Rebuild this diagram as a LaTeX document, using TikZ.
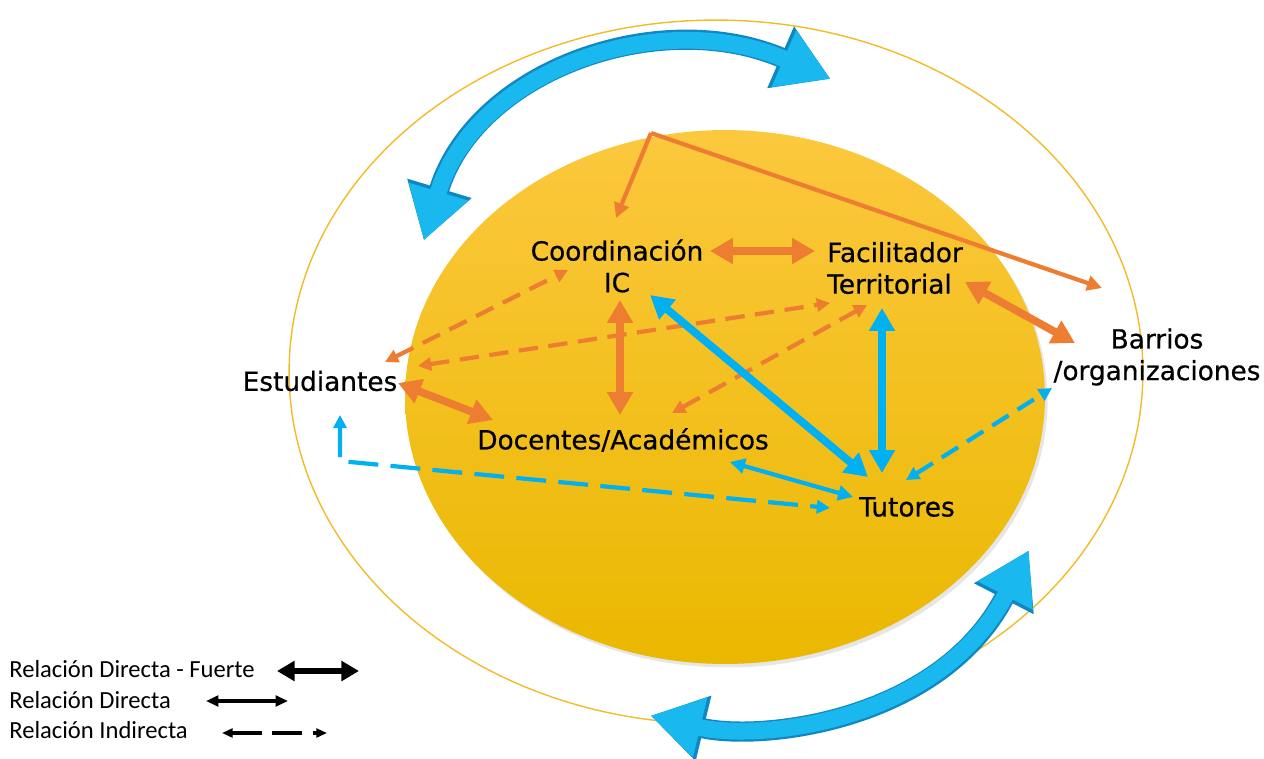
\documentclass[tikz,border=0pt]{standalone}
\usepackage{fontspec}
\setmainfont{DejaVu Sans}
\newfontfamily\actorfont{DejaVu Sans}[FakeBold=0.6]
\newfontfamily\leyendafont{Carlito}
\usetikzlibrary{arrows.meta,positioning,calc,shadows}
\definecolor{naranja}{RGB}{237,125,49}
\definecolor{celeste}{RGB}{0,176,240}
\definecolor{celesteG}{RGB}{25,185,240}
\definecolor{celesteB}{RGB}{15,135,195}
\definecolor{dorado}{RGB}{240,188,40}
\tikzset{
  actor/.style={font=\actorfont\fontsize{15}{18}\selectfont, inner sep=0pt, align=center},
  leyenda/.style={font=\leyendafont\fontsize{14}{16}\selectfont, inner sep=0pt, anchor=west},
  fuerte/.style={line width=4.4pt, >={Triangle[length=13pt,width=14pt]}, <->},
  directa/.style={line width=2.4pt, >={Triangle[length=8.5pt,width=8.5pt]}, <->},
  indirecta/.style={line width=2.4pt, dash pattern=on 11pt off 6pt, >={Triangle[length=7.5pt,width=7.5pt]}, <->},
  nucleo/.style={top color={rgb,255:red,252;green,200;blue,62}, middle color={rgb,255:red,255;green,192;blue,0},
    bottom color={rgb,255:red,234;green,184;blue,0}, drop shadow={shadow xshift=1.5pt, shadow yshift=-2pt, opacity=0.2}},
  ciclo/.style={draw=celesteG, line width=9.5pt, shorten <=1.5pt, shorten >=1.5pt,
    >={Triangle[length=29pt,width=33pt]}, <->,
    preaction={draw=celesteB, line width=11.5pt, >={Triangle[length=31pt,width=36pt]}, <->}}
}
\begin{document}
\begin{tikzpicture}[x=0.02cm,y=-0.02cm]
\useasboundingbox (0,0) rectangle (1264,758);
% elipses
\draw[dorado, line width=0.8pt] (716,372) ellipse [x radius=8.54cm, y radius=7.04cm];
\path[nucleo] (725,397) ellipse [x radius=6.4cm, y radius=5.34cm];
% flechas de ciclo
\draw[ciclo] (423,243) .. controls (475,70) and (660,5) .. (833,80);
\draw[ciclo] (648,715) .. controls (760,742) and (940,722) .. (1030,548);
% actores
\node[actor] (coord) at (617,266) {Coordinación\\IC};
\node[actor, align=left] (facil) at (895,268) {Facilitador\\Territorial};
\node[actor] (estud) at (320,381) {Estudiantes};
\node[actor] (docen) at (623,440) {Docentes/Académicos};
\node[actor] (tutor) at (907,507) {Tutores};
\node[actor] (barrio) at (1157,357) {Barrios\\/organizaciones};
\coordinate (vertice) at (651,133);
% relaciones naranjas
\draw[naranja, directa, ->] (vertice) -- ($(coord)+(-1,-48)$);
\draw[naranja, directa, ->] (vertice) -- ($(barrio)+(-55,-69)$);
\draw[naranja, fuerte] ($(coord)+(93,-15)$) -- ($(facil)+(-80,-17)$);
\draw[naranja, fuerte] ($(coord)+(3,34)$) -- ($(docen)+(-3,-25)$);
\draw[naranja, fuerte] ($(estud)+(78,2)$) -- ($(docen)+(-130,-20)$);
\draw[naranja, fuerte] ($(facil)+(70,14)$) -- ($(barrio)+(-82,-14)$);
\draw[naranja, indirecta] ($(estud)+(65,-19)$) -- ($(coord)+(-49,4)$);
\draw[naranja, indirecta] ($(estud)+(98,-15)$) -- ($(facil)+(-65,35)$);
\draw[naranja, indirecta] ($(docen)+(49,-27)$) -- ($(facil)+(-28,37)$);
% relaciones celestes
\draw[celeste, fuerte] ($(coord)+(33,29)$) -- ($(tutor)+(-39,-30)$);
\draw[celeste, fuerte] ($(facil)+(-13,40)$) -- ($(tutor)+(-25,-34)$);
\draw[celeste, directa] ($(docen)+(107,22)$) -- ($(tutor)+(-54,-10)$);
\draw[celeste, indirecta] ($(tutor)+(-1,-27)$) -- ($(barrio)+(-105,31)$);
\draw[celeste, indirecta, dash pattern=on 17pt off 7pt] ($(estud)+(20,34)$) -- ($(estud)+(20,80)$) -- ($(tutor)+(-77,1)$);
% leyenda
\node[leyenda] (lfuerte) at (9,669) {Relación Directa - Fuerte};
\node[leyenda] (ldirecta) at (9,700) {Relación Directa};
\node[leyenda] (lindirecta) at (9,730) {Relación Indirecta};
\draw[fuerte, line width=3pt, >={Triangle[length=10pt,width=11pt]}] ($(lfuerte.west)+(268,2)$) -- +(82,0);
\draw[directa, line width=1.8pt, >={Triangle[length=7pt,width=6pt]}] ($(ldirecta.west)+(197,1)$) -- +(82,0);
\draw[indirecta, line width=1.8pt, dash pattern=on 17pt off 6pt, >={Triangle[length=6pt,width=5pt]}] ($(lindirecta.west)+(213,3)$) -- +(105,0);
\end{tikzpicture}
\end{document}
